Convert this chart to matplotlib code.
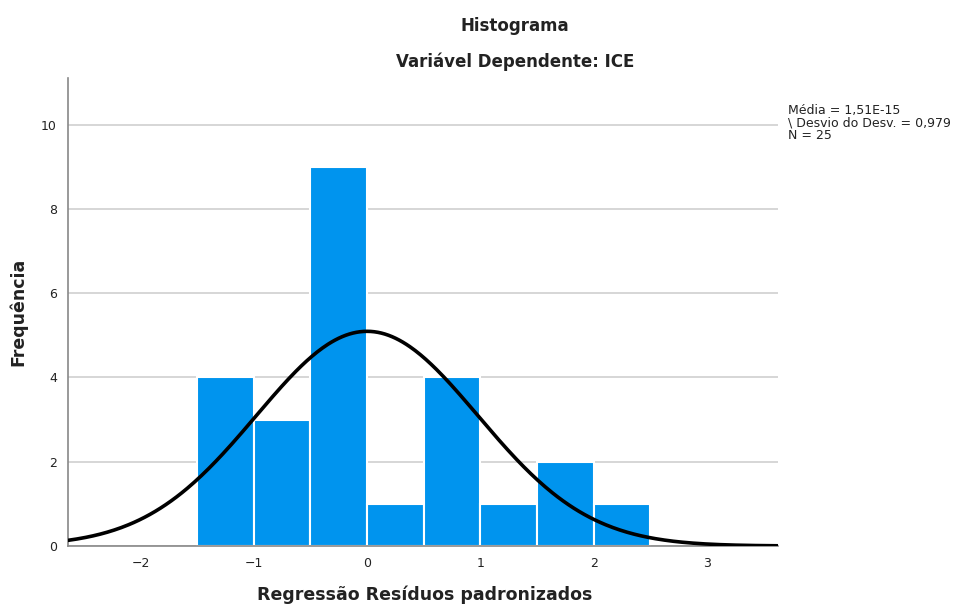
import numpy as np
import matplotlib.pyplot as plt

# Histogram of standardized residuals (bin edges and counts)
bin_edges = [-1.5, -1.0, -0.5, 0.0, 0.5, 1.0, 1.5, 2.0, 2.5]
counts = [4, 3, 9, 1, 4, 1, 2, 1]
mean = 1.51e-15
std = 0.979
n = 25
stats_text = "Média = 1,51E-15\n\\ Desvio do Desv. = 0,979\nN = 25"

fig = plt.figure(figsize=(9.64, 6.06), dpi=100)
ax = fig.add_axes([0.0705, 0.099, 0.737, 0.772])

widths = np.diff(bin_edges)
ax.bar(bin_edges[:-1], counts, width=widths, align='edge',
       color='#0094EE', edgecolor='white', linewidth=1.5, zorder=2)

# normal curve scaled to counts
xmin, xmax = -2.64, 3.63
x = np.linspace(xmin, xmax, 400)
bw = widths[0]
y = n * bw / (std * np.sqrt(2 * np.pi)) * np.exp(-0.5 * ((x - mean) / std) ** 2)
ax.plot(x, y, color='black', linewidth=2.6, zorder=3)

ax.set_xlim(xmin, xmax)
ax.set_ylim(0, 11.1)
ax.set_xticks([-2, -1, 0, 1, 2, 3])
ax.set_xticklabels(['\u22122', '\u22121', '0', '1', '2', '3'])
ax.set_yticks([0, 2, 4, 6, 8, 10])
ax.tick_params(length=0, labelsize=9, pad=8, colors='#222222')
ax.grid(axis='y', color='#d0d0d0', linewidth=1.2, zorder=0)
ax.set_axisbelow(True)
for s in ['top', 'right']:
    ax.spines[s].set_visible(False)
for s in ['left', 'bottom']:
    ax.spines[s].set_color('#888888')
    ax.spines[s].set_linewidth(1.2)

# axis titles placed in figure coordinates
fig.text(0.441, 0.018, "Regressão Resíduos padronizados", ha='center', va='center',
         fontsize=12.5, fontweight='bold', color='#222222')
fig.text(0.019, 0.485, "Frequência", ha='center', va='center', rotation=90,
         fontsize=12.5, fontweight='bold', color='#222222')

fig.text(0.534, 0.957, "Histograma", ha='center', va='center', fontsize=12, fontweight='bold', color='#222222')
fig.text(0.534, 0.898, "Variável Dependente: ICE", ha='center', va='center', fontsize=12, fontweight='bold', color='#222222')
fig.text(0.817, 0.797, stats_text, ha='left', va='center', fontsize=9, linespacing=0.95, color='#222222')

fig.savefig("out.png", dpi=100)
